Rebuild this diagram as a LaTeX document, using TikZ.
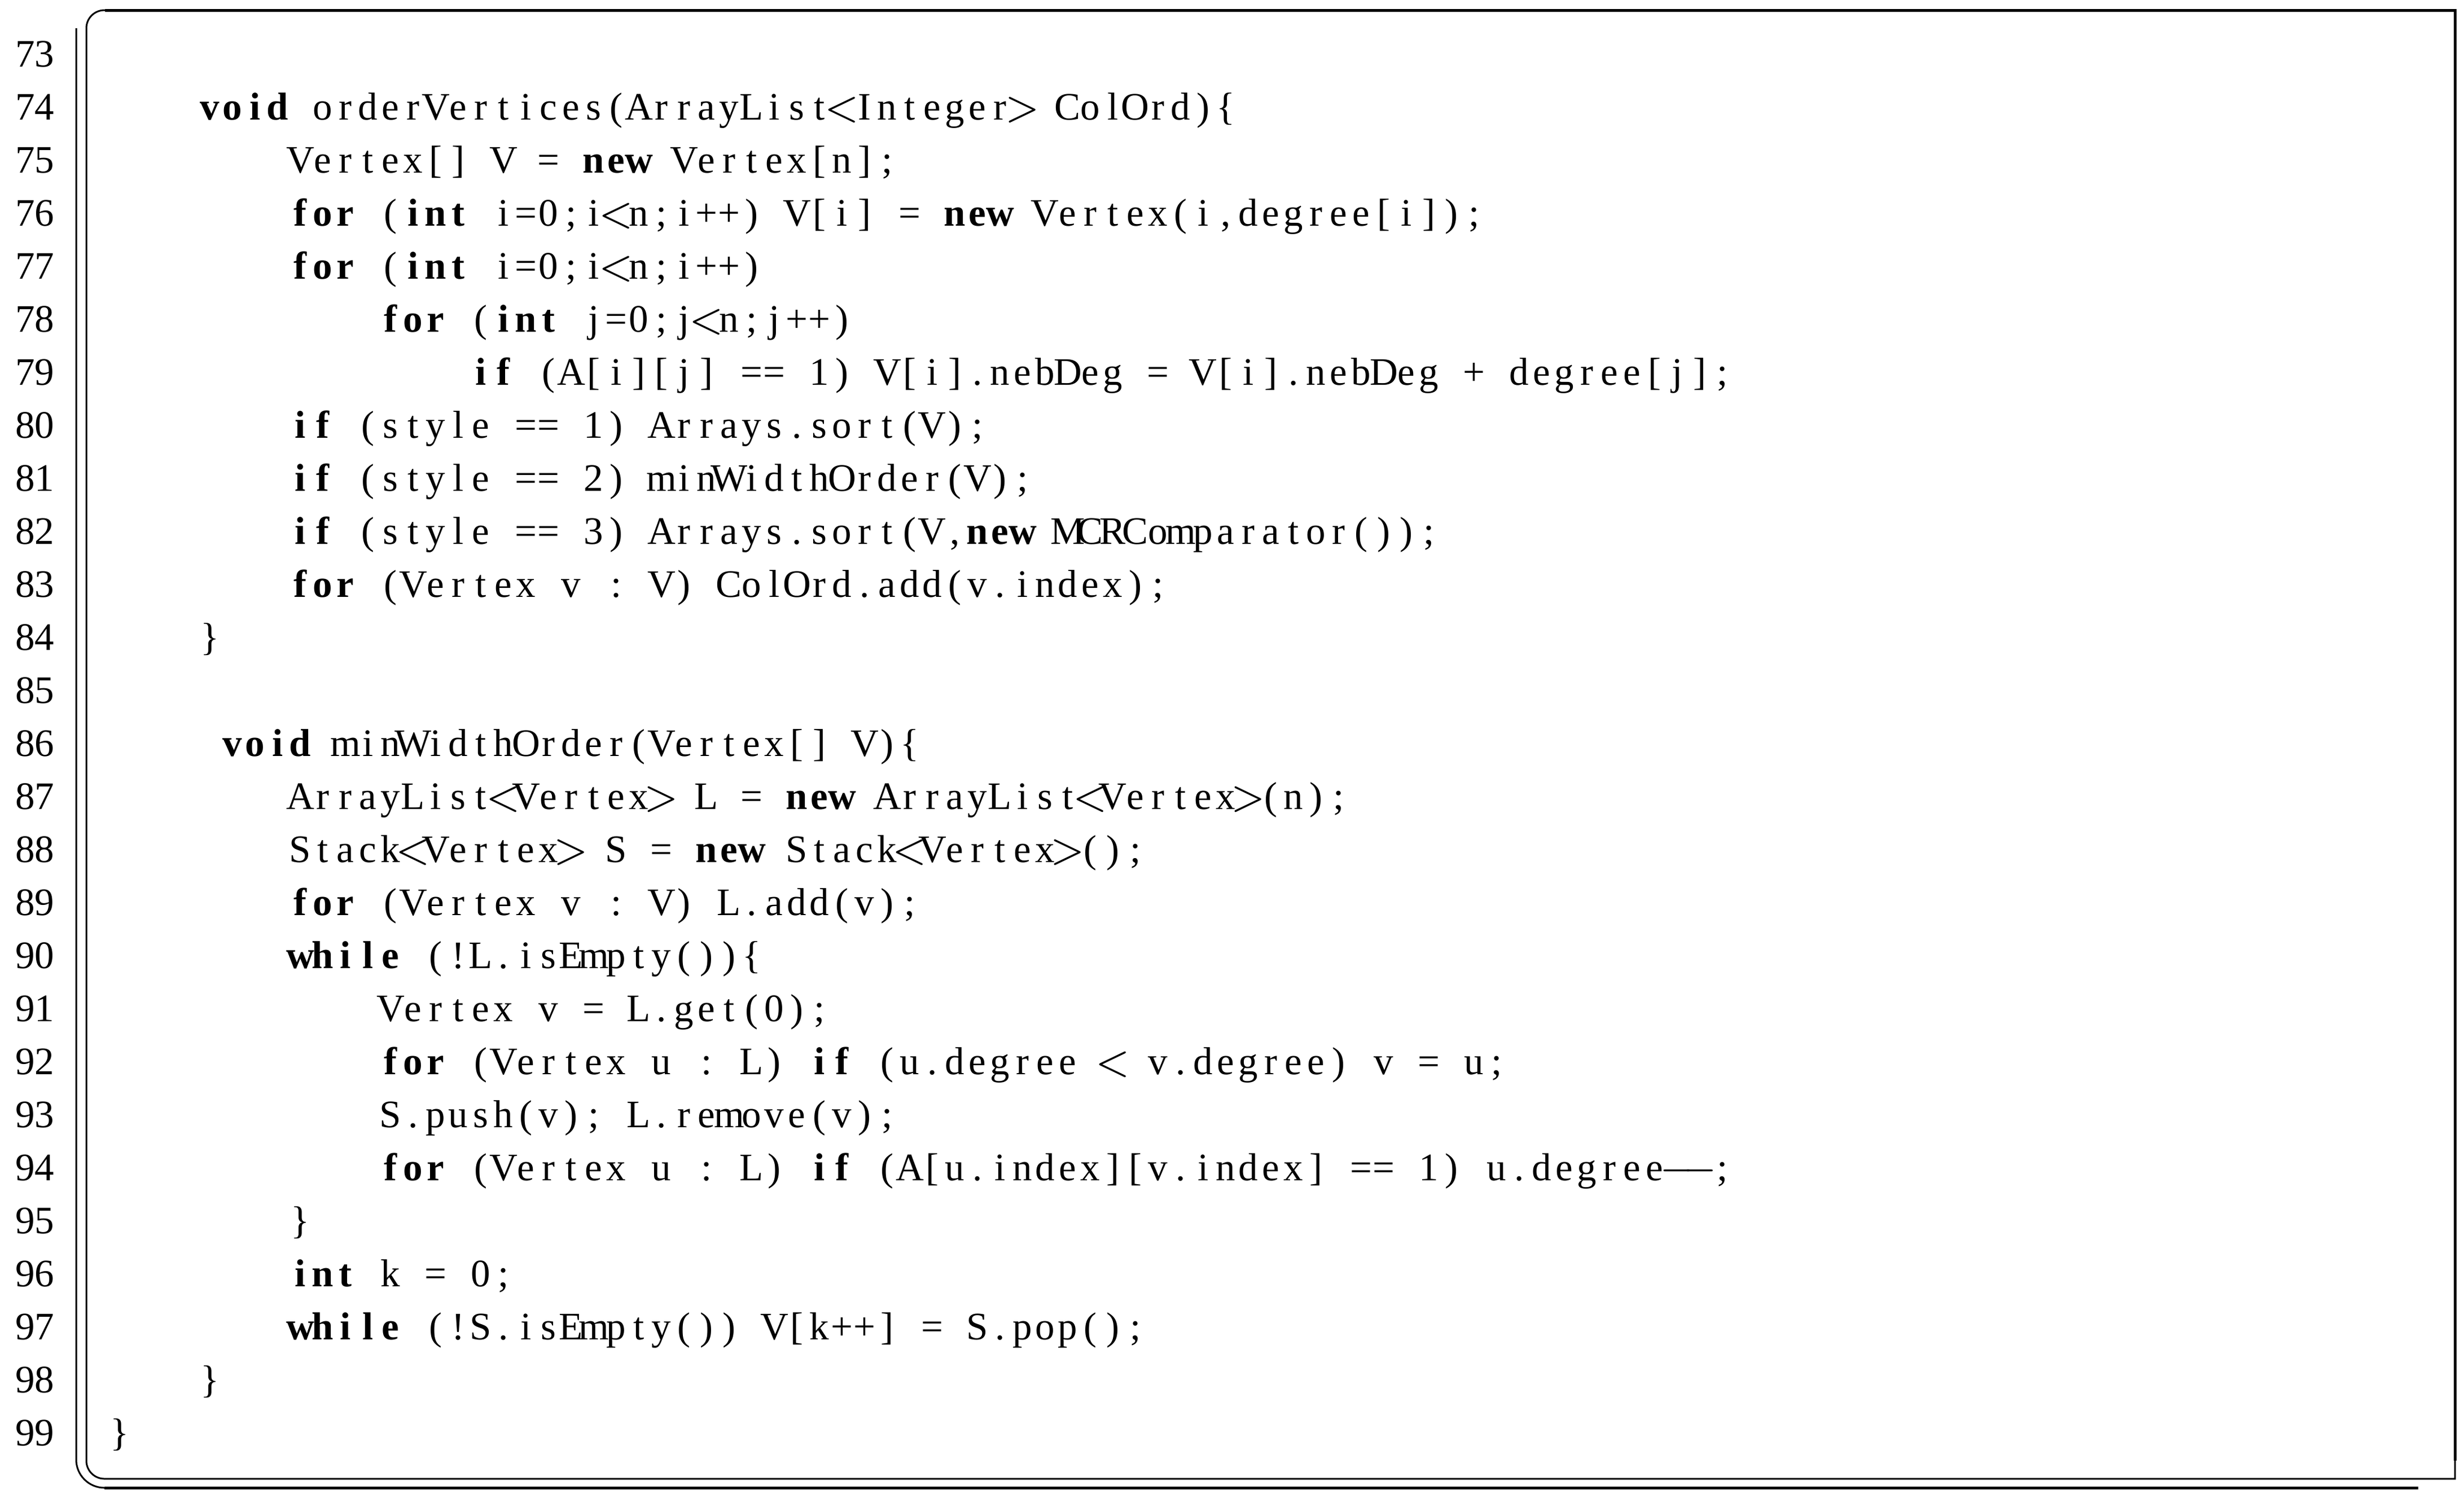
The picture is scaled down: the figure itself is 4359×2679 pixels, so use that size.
\documentclass[tikz,border=0pt]{standalone}
\usepackage{fontspec}
\setmainfont{Liberation Serif}
\newlength\colw \setlength\colw{4pt}
\ExplSyntaxOn
\cs_new:Npn \mycol #1 { \makebox[\colw][c]{#1} }
\NewDocumentCommand\C{m}{
  \str_map_inline:nn {#1} {
    \str_case:nnF {##1}
      { {<}{\mycol{$<$}} {>}{\mycol{$>$}} {-}{\mycol{$-$}} }
      {\mycol{##1}}
  }
}
\ExplSyntaxOff
\newcommand\B[1]{\textbf{\C{#1}}}
\newcommand\OB{\mycol{\{}}
\newcommand\CB{\mycol{\}}}
\begin{document}
\begin{tikzpicture}[x=0.1pt,y=-0.1pt,
  code/.style={anchor=base west,inner sep=0pt,font=\fontsize{6.9}{8}\selectfont},
  num/.style={anchor=base east,inner sep=0pt,font=\fontsize{6.9}{8}\selectfont},
  thinl/.style={line width=0.3pt},
  thickl/.style={line width=0.5pt}]
\useasboundingbox (0,0) rectangle (4359,2679);
% frame
\draw[thinl,rounded corners=3.2pt] (4350,18) [sharp corners] -- (4350,2621) [rounded corners=3.2pt] -- (153,2621) -- (153,18) -- (300,18);
\draw[thickl] (186,18) -- (4350,18) -- (4350,2589);
\draw[thinl,rounded corners=5pt] (135,50) -- (135,2637) -- (260,2637);
\draw[thickl] (185,2637) -- (4285,2637);
% line numbers
\foreach \n in {73,...,99} \node[num] (n\n) at (98,{118+94*(\n-73)}) {\n};
% code, column x = 190 + 40*c
\newcommand\Lx[3]{\node[code] (l#1) at ({190+40*#2},{118+94*(#1-73)}) {#3};}
\Lx{74}{4}{\B{void}\C{ orderVertices(ArrayList<Integer> ColOrd)}\OB}
\Lx{75}{8}{\C{Vertex[] V = }\B{new}\C{ Vertex[n];}}
\Lx{76}{8}{\B{for}\C{ (}\B{int}\C{ i=0;i<n;i++) V[i] = }\B{new}\C{ Vertex(i,degree[i]);}}
\Lx{77}{8}{\B{for}\C{ (}\B{int}\C{ i=0;i<n;i++)}}
\Lx{78}{12}{\B{for}\C{ (}\B{int}\C{ j=0;j<n;j++)}}
\Lx{79}{16}{\B{if}\C{ (A[i][j] == 1) V[i].nebDeg = V[i].nebDeg + degree[j];}}
\Lx{80}{8}{\B{if}\C{ (style == 1) Arrays.sort(V);}}
\Lx{81}{8}{\B{if}\C{ (style == 2) minWidthOrder(V);}}
\Lx{82}{8}{\B{if}\C{ (style == 3) Arrays.sort(V,}\B{new}\C{ MCRComparator());}}
\Lx{83}{8}{\B{for}\C{ (Vertex v : V) ColOrd.add(v.index);}}
\Lx{84}{4}{\CB}
\Lx{86}{5}{\B{void}\C{ minWidthOrder(Vertex[] V)}\OB}
\Lx{87}{8}{\C{ArrayList<Vertex> L = }\B{new}\C{ ArrayList<Vertex>(n);}}
\Lx{88}{8}{\C{Stack<Vertex> S = }\B{new}\C{ Stack<Vertex>();}}
\Lx{89}{8}{\B{for}\C{ (Vertex v : V) L.add(v);}}
\Lx{90}{8}{\B{while}\C{ (!L.isEmpty())}\OB}
\Lx{91}{12}{\C{Vertex v = L.get(0);}}
\Lx{92}{12}{\B{for}\C{ (Vertex u : L) }\B{if}\C{ (u.degree < v.degree) v = u;}}
\Lx{93}{12}{\C{S.push(v); L.remove(v);}}
\Lx{94}{12}{\B{for}\C{ (Vertex u : L) }\B{if}\C{ (A[u.index][v.index] == 1) u.degree--;}}
\Lx{95}{8}{\CB}
\Lx{96}{8}{\B{int}\C{ k = 0;}}
\Lx{97}{8}{\B{while}\C{ (!S.isEmpty()) V[k++] = S.pop();}}
\Lx{98}{4}{\CB}
\Lx{99}{0}{\CB}
\end{tikzpicture}
\end{document}
